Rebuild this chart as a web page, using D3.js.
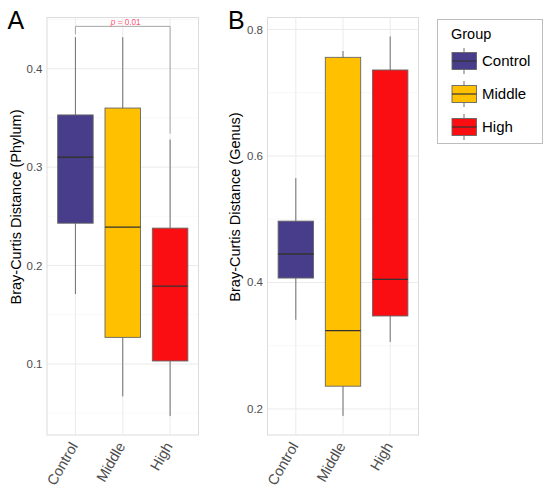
<!DOCTYPE html>
<html><head><meta charset="utf-8">
<script src="https://cdn.jsdelivr.net/npm/d3@7/dist/d3.min.js"></script>
<style>body{margin:0;background:#fff}svg{display:block}text{font-family:"Liberation Sans",Arial,sans-serif}</style>
</head><body><svg id="c" width="550" height="490"></svg>
<script>
const groups = ["Control","Middle","High"];
const colors = ["#483D8B","#FFC000","#FA0E12"];
// [whiskerLow, Q1, median, Q3, whiskerHigh]
const phylumStats = [
  [0.171,0.243,0.310,0.353,0.432],
  [0.067,0.127,0.239,0.360,0.432],
  [0.047,0.103,0.179,0.238,0.328]
];
const genusStats = [
  [0.341,0.407,0.445,0.497,0.565],
  [0.189,0.236,0.324,0.756,0.766],
  [0.306,0.347,0.405,0.736,0.789]
];
const phylumTicks = [0.1,0.2,0.3,0.4];
const phylumMinor = [0.05,0.15,0.25,0.35,0.45];
const genusTicks = [0.2,0.4,0.6,0.8];
const genusMinor = [0.3,0.5,0.7];
const pLabel = "0.01";

const svg = d3.select("#c");

function panel(opts){
  const {x0,x1,y0,y1,domain,stats,ticks,minor,ylab,letter,labX,labY,letterX} = opts;
  const g = svg.append("g");
  const x = d3.scaleBand().domain(groups).range([x0,x1]).paddingInner(0.0).paddingOuter(0.1);
  const y = d3.scaleLinear().domain(domain).range([y1,y0]);
  // grid
  g.selectAll(".mn").data(minor.filter(v=>v>domain[0]&&v<domain[1])).join("line")
    .attr("x1",x0).attr("x2",x1).attr("y1",d=>y(d)).attr("y2",d=>y(d))
    .attr("stroke","#f4f4f4").attr("stroke-width",0.6);
  g.selectAll(".mj").data(ticks).join("line")
    .attr("x1",x0).attr("x2",x1).attr("y1",d=>y(d)).attr("y2",d=>y(d))
    .attr("stroke","#ebebeb").attr("stroke-width",1);
  g.selectAll(".vg").data(groups).join("line")
    .attr("x1",d=>x(d)+x.bandwidth()/2).attr("x2",d=>x(d)+x.bandwidth()/2).attr("y1",y0).attr("y2",y1)
    .attr("stroke","#ebebeb").attr("stroke-width",1);
  g.append("rect").attr("x",x0).attr("y",y0).attr("width",x1-x0).attr("height",y1-y0)
    .attr("fill","none").attr("stroke","#dcdcdc").attr("stroke-width",1);
  // boxes
  const bw = x.bandwidth()*0.75;
  stats.forEach((s,i)=>{
    const cx = x(groups[i])+x.bandwidth()/2;
    g.append("line").attr("x1",cx).attr("x2",cx).attr("y1",y(s[4])).attr("y2",y(s[3]))
      .attr("stroke","#6e6e6e").attr("stroke-width",1);
    g.append("line").attr("x1",cx).attr("x2",cx).attr("y1",y(s[1])).attr("y2",y(s[0]))
      .attr("stroke","#6e6e6e").attr("stroke-width",1);
    g.append("rect").attr("x",cx-bw/2).attr("width",bw).attr("y",y(s[3])).attr("height",y(s[1])-y(s[3]))
      .attr("fill",colors[i]).attr("stroke","#666").attr("stroke-width",0.9);
    g.append("line").attr("x1",cx-bw/2).attr("x2",cx+bw/2).attr("y1",y(s[2])).attr("y2",y(s[2]))
      .attr("stroke","#333").attr("stroke-width",1.3);
  });
  // y ticks
  g.selectAll(".yt").data(ticks).join("text")
    .attr("x",x0-4.5).attr("y",d=>y(d)).attr("dy","0.35em").attr("text-anchor","end")
    .attr("font-size",11.5).attr("fill","#4d4d4d").text(d=>d.toFixed(1));
  // x ticks
  groups.forEach(gname=>{
    const cx = x(gname)+x.bandwidth()/2;
    g.append("text").attr("transform",`translate(${cx+3},${y1+11}) rotate(-60)`)
      .attr("text-anchor","end").attr("font-size",14.5).attr("fill","#4d4d4d").text(gname);
  });
  // y label
  g.append("text").attr("transform",`translate(${labX},${labY}) rotate(-90)`)
    .attr("text-anchor","middle").attr("dy","0.35em").attr("font-size",14.5).attr("fill","#000").text(ylab);
  // letter
  g.append("text").attr("x",letterX).attr("y",28.5).attr("font-size",25).attr("fill","#000").text(letter);
  return {x,y,g};
}

const A = panel({x0:47,x1:198.5,y0:17.5,y1:435,domain:[0.0278,0.452],stats:phylumStats,ticks:phylumTicks,minor:phylumMinor,
  ylab:"Bray-Curtis Distance (Phylum)",letter:"A",labX:15.5,labY:207,letterX:7.5});
const B = panel({x0:267.5,x1:418.5,y0:17.5,y1:435,domain:[0.1588,0.819],stats:genusStats,ticks:genusTicks,minor:genusMinor,
  ylab:"Bray-Curtis Distance (Genus)",letter:"B",labX:235,labY:207,letterX:228});

// significance bracket in A
{
  const {x,y,g} = A;
  const c0 = x("Control")+x.bandwidth()/2, c2 = x("High")+x.bandwidth()/2;
  const top = y(0.443);
  const l0 = y(0.435), l2 = y(0.334);
  g.append("path").attr("d",`M${c0},${l0}V${top}H${c2}V${l2}`)
    .attr("fill","none").attr("stroke","#a6a6a6").attr("stroke-width",1);
  const t = g.append("text").attr("x",(c0+c2)/2+3).attr("y",top-1.2).attr("text-anchor","middle")
    .attr("font-size",8.2).attr("fill","#ff5577");
  t.append("tspan").attr("font-style","italic").text("p");
  t.append("tspan").text(" = "+pLabel);
}

// legend
{
  const lg = svg.append("g");
  lg.append("rect").attr("x",437.5).attr("y",19.5).attr("width",105).attr("height",124)
    .attr("fill","#fff").attr("stroke","#bdbdbd").attr("stroke-width",1);
  lg.append("text").attr("x",451).attr("y",39).attr("font-size",14.5).attr("fill","#000").text("Group");
  const ly = d3.scalePoint().domain(groups).range([61,127]);
  groups.forEach((gname,i)=>{
    const cy = ly(gname);
    lg.append("line").attr("x1",464).attr("x2",464).attr("y1",cy-13).attr("y2",cy+13)
      .attr("stroke","#6e6e6e").attr("stroke-width",1);
    lg.append("rect").attr("x",452).attr("y",cy-8.5).attr("width",24.5).attr("height",17)
      .attr("fill",colors[i]).attr("stroke","#666").attr("stroke-width",0.9);
    lg.append("line").attr("x1",452).attr("x2",476.5).attr("y1",cy).attr("y2",cy)
      .attr("stroke","#333").attr("stroke-width",1.2);
    lg.append("text").attr("x",482).attr("y",cy).attr("dy","0.35em").attr("font-size",15).attr("fill","#000").text(gname);
  });
}
</script></body></html>
